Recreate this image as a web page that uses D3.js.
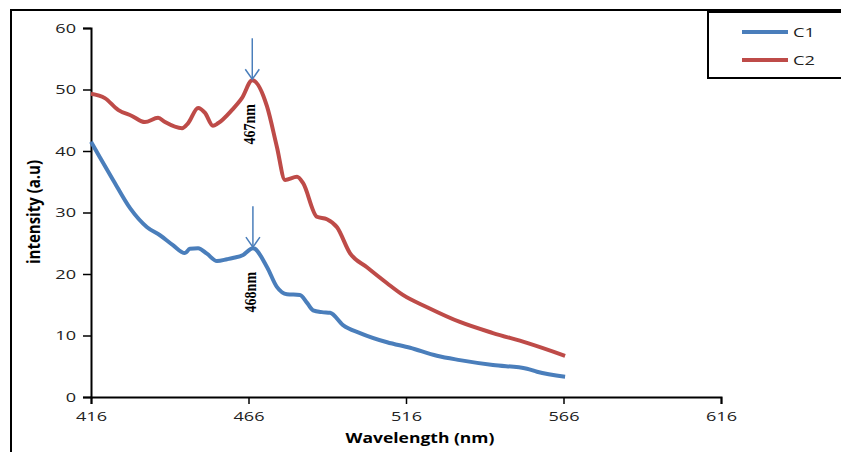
<!DOCTYPE html>
<html>
<head>
<meta charset="utf-8">
<script src="https://cdn.jsdelivr.net/npm/d3@7"></script>
<style>
  body { margin: 0; background: #fff; }
  svg { display: block; }
</style>
</head>
<body>
<div id="chart"></div>
<script>
// wavelengths (nm) and intensities
const c1Wavelength = [416, 418.9, 423, 428.4, 433.8, 437.9, 442, 445.8, 447.4, 450, 452.8, 456, 459.2, 461, 464.3, 467.4,
  471.9, 475, 478.2, 482.3, 484.6, 486.5, 489.3, 491.9, 496, 501.4, 510, 517.3, 525.8, 533.1, 543.6, 554.4, 557.6, 566.5];
const c1Intensity = [41.5, 38.9, 35.3, 30.7, 27.6, 26.3, 24.7, 23.4, 24.1, 24.2, 23.3, 22.1, 22.4, 22.6, 23.1, 24.2,
  21.1, 17.9, 16.7, 16.6, 15.3, 14.1, 13.8, 13.7, 11.7, 10.4, 8.9, 8.0, 6.7, 6.0, 5.2, 4.6, 4.1, 3.3];

const c2Wavelength = [416, 420.4, 424.6, 429, 433.1, 437.3, 439.5, 444.9, 446.8, 450, 452.2, 454.7, 456.3, 460.8, 463.9, 467.2,
  471.9, 475, 477.6, 481.4, 483.3, 487.7, 490.9, 494.1, 498.2, 503.6, 510, 515, 522.7, 533.1, 543.6, 554.4, 566.5];
const c2Intensity = [49.3, 48.6, 46.7, 45.7, 44.7, 45.4, 44.7, 43.7, 44.5, 47.0, 46.2, 44.1, 44.5, 46.7, 48.6, 51.5,
  47.2, 40.7, 35.3, 35.8, 34.8, 29.3, 28.9, 27.6, 23.4, 21.1, 18.5, 16.6, 14.6, 12.2, 10.4, 8.8, 6.7];

const seriesNames = ["C1", "C2"];
const xTicks = [416, 466, 516, 566, 616];
const yTicks = [0, 10, 20, 30, 40, 50, 60];

// peak markers: [wavelength, intensity, label]
const peaks = [[467.2, 51.5, "467nm"], [467.4, 24.2, "468nm"]];

const width = 841, height = 452;
const margin = {top: 28, right: 120, bottom: 55, left: 91};
const colour = d3.scaleOrdinal().domain(seriesNames).range(["#4a7ebb", "#be4b48"]);

// the original picture is stretched sideways, so text gets widened too
const stretch = 1.45;

const x = d3.scaleLinear().domain([416, 616]).range([margin.left, 721]);
const y = d3.scaleLinear().domain([0, 60]).range([397, margin.top]);

const svg = d3.select("#chart").append("svg")
    .attr("width", width)
    .attr("height", height);

// outer frame (runs off right/bottom edge)
svg.append("rect")
    .attr("x", 11).attr("y", 10)
    .attr("width", 900).attr("height", 500)
    .attr("fill", "none")
    .attr("stroke", "#000")
    .attr("stroke-width", 2);

const tickFont = "12.5px 'Open Sans', sans-serif";

// y axis
const yAxis = svg.append("g")
    .attr("transform", `translate(${margin.left},0)`)
    .call(d3.axisLeft(y).tickValues(yTicks).tickSize(8));
yAxis.select(".domain").attr("stroke-width", 2);
yAxis.selectAll(".tick line").attr("stroke-width", 1.5);
yAxis.selectAll("text")
    .style("font", tickFont)
    .attr("fill", "#222")
    .attr("x", -15 / stretch)
    .attr("transform", `scale(${stretch},1)`);

// x axis
const xAxis = svg.append("g")
    .attr("transform", `translate(0,397)`)
    .call(d3.axisBottom(x).tickValues(xTicks).tickSize(7).tickPadding(8));
xAxis.select(".domain").attr("stroke-width", 2);
xAxis.selectAll(".tick line").attr("stroke-width", 1.5);
xAxis.selectAll("text")
    .style("font", tickFont)
    .attr("fill", "#222")
    .attr("transform", `scale(${stretch},1)`);

// axis titles
svg.append("text")
    .attr("transform", "translate(420,443) scale(1.25,1)")
    .attr("text-anchor", "middle")
    .style("font", "bold 14px 'Open Sans', sans-serif")
    .text("Wavelength (nm)");

svg.append("text")
    .attr("transform", "translate(40,212) scale(1.15,1) rotate(-90)")
    .attr("text-anchor", "middle")
    .style("font", "bold 15px 'Open Sans', sans-serif")
    .text("intensity (a.u)");

// lines
const line = d3.line()
    .x(d => x(d[0]))
    .y(d => y(d[1]))
    .curve(d3.curveMonotoneX);

const series = [
  {name: "C1", values: d3.zip(c1Wavelength, c1Intensity)},
  {name: "C2", values: d3.zip(c2Wavelength, c2Intensity)}
];

svg.selectAll(".series")
  .data(series)
  .join("path")
    .attr("class", "series")
    .attr("fill", "none")
    .attr("stroke", d => colour(d.name))
    .attr("stroke-width", 4)
    .attr("stroke-linejoin", "round")
    .attr("d", d => line(d.values));

// peak arrows + labels
const arrowCol = "#4a7ebb";
const pk = svg.selectAll(".peak")
  .data(peaks)
  .join("g")
    .attr("class", "peak")
    .attr("transform", d => `translate(${x(d[0])},${y(d[1])})`);

pk.append("line")
    .attr("x1", 0).attr("y1", -42)
    .attr("x2", 0).attr("y2", -1)
    .attr("stroke", arrowCol)
    .attr("stroke-width", 1.5);

pk.append("path")
    .attr("d", "M-7,-11L0,-1L7,-11")
    .attr("fill", "none")
    .attr("stroke", arrowCol)
    .attr("stroke-width", 1.5);

pk.append("text")
    .attr("transform", "translate(3,44) scale(1.2,1) rotate(-90)")
    .attr("text-anchor", "middle")
    .style("font", "bold 14px 'Liberation Serif', serif")
    .attr("fill", "#000")
    .text(d => d[2]);

// legend
const legend = svg.append("g");
legend.append("rect")
    .attr("x", 708).attr("y", 12)
    .attr("width", 150).attr("height", 66)
    .attr("fill", "#fff")
    .attr("stroke", "#000")
    .attr("stroke-width", 2);

const li = legend.selectAll(".item")
  .data(seriesNames)
  .join("g")
    .attr("class", "item")
    .attr("transform", (d, i) => `translate(742,${32 + i * 28})`);

li.append("line")
    .attr("x1", 0).attr("x2", 46)
    .attr("stroke", d => colour(d))
    .attr("stroke-width", 4);

li.append("text")
    .attr("transform", `translate(51,0) scale(1.4,1)`)
    .attr("dominant-baseline", "central")
    .style("font", "13px 'Open Sans', sans-serif")
    .attr("fill", "#222")
    .text(d => d);
</script>
</body>
</html>
